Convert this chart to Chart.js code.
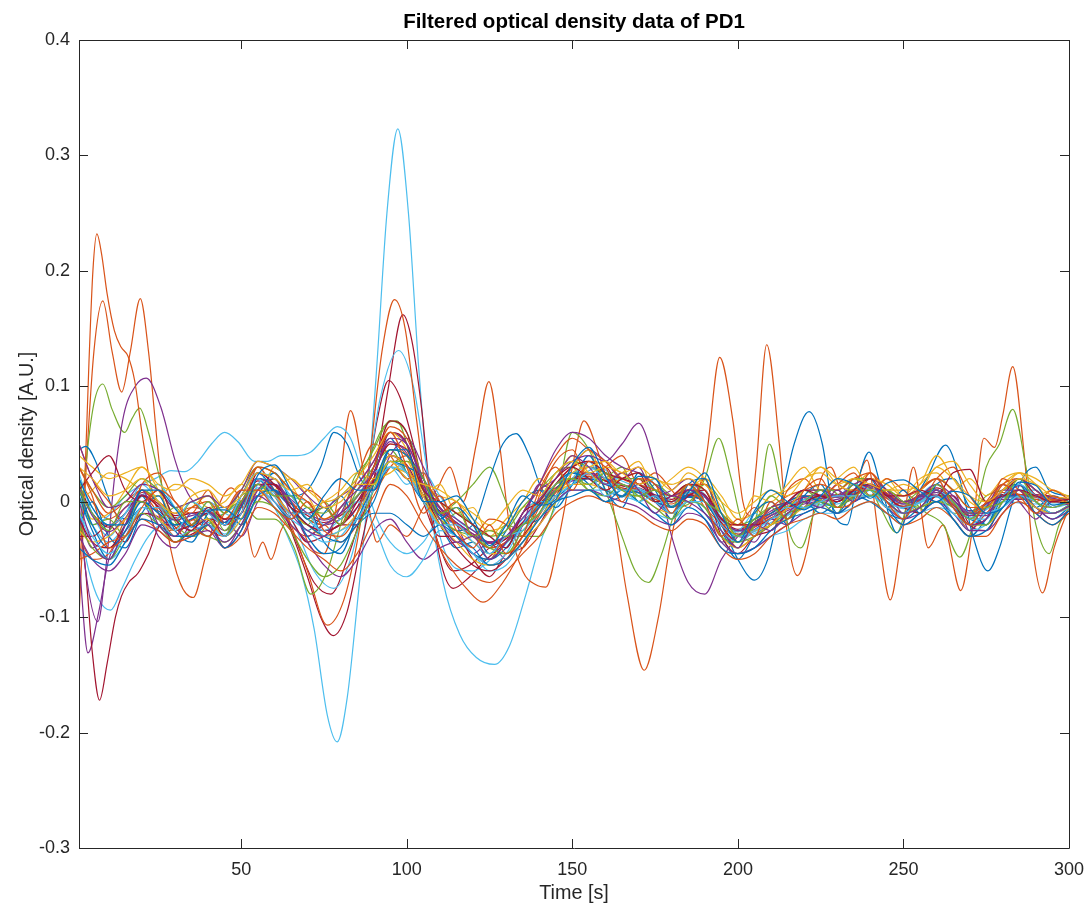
<!DOCTYPE html>
<html>
<head>
<meta charset="utf-8">
<script src="https://cdn.jsdelivr.net/npm/chart.js@4.4.1/dist/chart.umd.min.js"></script>
<style>
  html, body { margin: 0; padding: 0; background: #ffffff; }
  #wrap { width: 1086px; height: 908px; }
</style>
</head>
<body>
<div id="wrap"><canvas id="odChart"></canvas></div>
<script>
// common sampling times (s) for the channels that stay in the main band
const gridTime = [1,5,10,15,20,25,30,35,40,45, 50,55,60,65,70,75,80,85,90,95,
  100,105,110,115,120,125,130,135,140,145, 150,155,160,165,170,175,180,185,190,195,
  200,205,210,215,220,225,230,235,240,245, 250,255,260,265,270,275,280,285,290,295, 300];

const xTicks = [50, 100, 150, 200, 250, 300];
const yTicks = [-0.3, -0.2, -0.1, 0, 0.1, 0.2, 0.3, 0.4];

// band channels, one value per gridTime entry
const bgBlue1 = [0.020,-0.005,-0.020,-0.020,0.010,0.010,-0.006,-0.022,-0.007,-0.007,
  -0.015,0.023,0.032,0.010,-0.015,0.005,0.020,0.010,0.010,0.045,
  0.045,0.000,0.000,0.005,-0.015,-0.038,-0.020,0.005,-0.003,0.002,
  0.032,0.047,0.022,0.004,0.022,0.020,-0.005,0.008,0.025,-0.010,
  -0.035,-0.008,0.010,0.000,-0.007,0.005,0.020,0.015,0.003,0.016,
  0.019,0.009,0.000,0.009,0.005,-0.010,-0.005,0.017,0.014,-0.003, 0.000];
const bgOrange1 = [0.030,0.005,-0.040,-0.030,-0.005,0.010,0.000,-0.020,-0.030,-0.010,
  0.010,0.010,-0.005,-0.015,0.000,-0.025,-0.030,-0.010,0.030,0.060,
  0.030,-0.010,0.005,-0.025,-0.040,-0.020,-0.045,-0.030,0.010,0.030,
  0.010,0.035,0.030,0.000,0.020,0.015,-0.010,0.015,0.000,-0.030,
  -0.015,-0.030,0.000,-0.015,0.010,0.020,-0.005,0.000,0.025,0.000,
  -0.015,0.010,0.020,-0.005,-0.020,0.000,0.015,0.005,-0.010,0.005, -0.002];
const bgYellow1 = [0.030,0.020,0.005,0.010,0.020,0.000,-0.010,0.005,0.010,-0.005,
  0.005,0.025,0.020,0.010,0.015,-0.005,0.000,0.015,0.015,0.035,
  0.020,0.015,0.010,0.000,-0.010,-0.020,-0.005,0.010,0.005,0.025,
  0.035,0.025,0.030,0.025,0.015,0.020,0.010,0.025,0.015,0.000,
  -0.010,0.000,0.010,0.005,0.020,0.025,0.015,0.020,0.015,0.010,
  0.015,0.010,0.030,0.020,0.005,0.000,0.010,0.020,0.015,0.005, 0.003];
const bgPurple1 = [0.000,-0.035,-0.050,-0.020,0.010,-0.020,-0.030,-0.010,-0.020,-0.035,
  -0.020,0.010,0.020,-0.010,-0.025,-0.030,-0.005,0.010,0.025,0.055,
  0.050,0.015,-0.015,-0.035,-0.030,-0.050,-0.035,-0.010,0.010,0.020,
  0.040,0.030,0.015,0.025,0.010,-0.010,0.005,0.000,-0.010,-0.025,
  -0.040,-0.020,-0.025,-0.010,0.000,-0.005,0.010,0.000,0.015,0.000,
  -0.010,-0.005,0.010,-0.005,-0.020,-0.015,0.010,0.010,-0.010,-0.010, -0.004];
const bgGreen1 = [0.010,-0.010,-0.025,0.000,0.000,-0.015,-0.005,-0.020,0.000,-0.025,
  0.000,0.015,0.005,0.005,-0.015,-0.005,-0.020,0.005,0.015,0.035,
  0.035,0.020,-0.010,-0.005,-0.030,-0.025,-0.030,-0.020,-0.010,0.015,
  0.020,0.015,0.025,0.010,0.005,0.010,-0.005,0.015,0.000,-0.010,
  -0.030,-0.015,-0.005,-0.015,0.000,0.010,-0.005,0.015,0.005,0.010,
  0.000,-0.005,0.015,0.000,-0.015,-0.005,0.000,0.020,0.000,-0.005, 0.000];
const bgCyan1 = [-0.010,-0.030,-0.045,-0.030,-0.005,-0.005,-0.025,-0.010,-0.020,-0.030,
  -0.010,0.020,0.005,-0.010,-0.010,-0.030,-0.025,-0.015,0.010,0.030,
  0.025,0.000,-0.020,-0.020,-0.035,-0.045,-0.030,-0.025,-0.010,0.005,
  0.015,0.025,0.005,0.010,0.000,0.005,-0.010,0.000,0.000,-0.020,
  -0.030,-0.025,-0.015,-0.005,-0.005,0.000,0.005,0.005,0.005,-0.005,
  -0.010,0.000,0.005,-0.010,-0.020,-0.010,-0.005,0.005,0.000,-0.010, -0.004];
const bgRed1 = [0.010,0.025,0.040,0.010,0.000,0.010,-0.015,-0.025,-0.005,-0.015,
  -0.010,0.025,0.015,-0.005,-0.010,-0.005,-0.020,0.000,0.025,0.050,
  0.045,0.010,0.000,-0.010,-0.020,-0.030,-0.040,-0.010,0.000,0.020,
  0.030,0.020,0.010,0.020,0.025,0.000,0.005,0.015,0.010,-0.015,
  -0.020,-0.020,-0.015,0.000,0.010,0.005,0.000,0.010,0.020,0.005,
  0.005,0.010,0.005,0.025,0.028,0.000,0.005,0.010,0.005,0.000, 0.002];
const bgBlue2 = [-0.040,-0.050,-0.055,-0.035,-0.015,-0.020,-0.030,-0.030,-0.020,-0.040,
  -0.025,0.005,0.010,-0.005,-0.030,-0.045,-0.040,-0.015,0.015,0.045,
  0.040,0.020,-0.010,-0.030,-0.040,-0.055,-0.050,-0.035,-0.015,0.000,
  0.005,0.010,0.000,0.010,0.000,-0.010,-0.020,-0.005,-0.015,-0.040,
  -0.045,-0.040,-0.025,-0.015,-0.010,-0.005,-0.010,0.000,0.005,-0.005,
  -0.020,-0.010,0.000,-0.015,-0.030,-0.025,-0.005,0.005,-0.010,-0.020, -0.008];
const bgOrange2 = [-0.050,-0.045,-0.035,-0.030,-0.015,-0.025,-0.035,-0.030,-0.020,-0.040,
  -0.030,-0.005,-0.010,-0.025,-0.040,-0.050,-0.060,-0.045,-0.015,0.015,
  0.005,-0.020,-0.040,-0.055,-0.065,-0.070,-0.060,-0.045,-0.030,-0.010,
  0.000,0.005,0.000,-0.005,-0.010,-0.020,-0.025,-0.015,-0.020,-0.040,
  -0.050,-0.045,-0.030,-0.020,-0.015,-0.010,-0.015,-0.005,0.000,-0.010,
  -0.020,-0.015,-0.005,-0.015,-0.030,-0.030,-0.010,0.000,-0.010,-0.020, -0.010];
const bgYellow2 = [0.040,0.030,0.020,0.025,0.030,0.015,0.010,0.020,0.015,0.005,
  0.015,0.035,0.030,0.020,0.010,0.000,0.005,0.020,0.040,0.060,
  0.045,0.005,-0.020,-0.035,-0.050,-0.055,-0.050,-0.035,-0.020,0.000,
  0.025,0.030,0.035,0.025,0.030,0.020,0.015,0.020,0.010,-0.010,
  -0.030,-0.025,-0.020,-0.005,0.010,0.030,0.015,0.010,0.020,0.015,
  0.005,0.015,0.040,0.020,0.000,-0.005,0.010,0.025,0.015,0.000, 0.000];
const bgPurple2 = [0.050,0.020,-0.005,0.000,0.015,0.010,-0.005,0.000,0.005,-0.005,
  0.010,0.035,0.030,0.020,0.005,-0.005,0.005,0.015,0.035,0.060,
  0.050,0.020,-0.005,-0.015,-0.025,-0.035,-0.030,-0.010,0.015,0.045,
  0.060,0.055,0.040,0.030,0.025,0.015,0.005,0.010,0.005,-0.015,
  -0.025,-0.020,-0.005,0.000,0.010,0.010,0.005,0.015,0.020,0.010,
  0.000,0.005,0.015,0.005,-0.010,-0.010,0.010,0.020,0.010,0.000, 0.003];
const bgGreen2 = [-0.020,-0.040,-0.050,-0.030,-0.010,-0.020,-0.035,-0.025,-0.030,-0.035,
  -0.020,0.000,-0.005,-0.025,-0.050,-0.065,-0.055,-0.025,0.010,0.045,
  0.040,0.010,-0.015,-0.025,-0.030,-0.040,-0.045,-0.025,-0.010,0.010,
  0.020,0.010,0.005,0.015,0.005,-0.005,-0.015,0.000,-0.005,-0.030,
  -0.035,-0.030,-0.020,-0.010,-0.005,0.000,-0.005,0.005,0.010,0.000,
  -0.010,-0.005,0.000,-0.005,-0.020,-0.020,0.000,0.010,0.000,-0.010, -0.003];
const bgCyan2 = [0.020,-0.005,-0.020,-0.010,0.015,0.000,-0.015,0.000,-0.010,-0.020,
  0.005,0.025,0.020,0.005,-0.015,-0.025,-0.015,0.000,-0.020,-0.055,
  -0.065,-0.050,-0.025,-0.030,-0.045,-0.055,-0.045,-0.020,0.000,0.015,
  0.025,0.030,0.020,0.010,0.010,0.000,-0.010,0.000,-0.005,-0.025,
  -0.035,-0.025,-0.015,-0.010,0.000,0.010,0.005,0.015,0.010,0.000,
  -0.005,0.000,0.010,0.000,-0.015,-0.015,0.005,0.015,0.005,-0.005, 0.000];
const bgRed2 = [-0.015,-0.035,-0.040,-0.020,0.005,-0.005,-0.025,-0.020,-0.010,-0.030,
  -0.010,0.015,0.015,-0.005,-0.020,-0.025,-0.020,-0.005,0.030,0.070,
  0.060,0.010,-0.020,-0.040,-0.055,-0.060,-0.050,-0.030,-0.010,0.015,
  0.030,0.035,0.025,0.020,0.015,0.005,0.000,0.010,0.005,-0.020,
  -0.035,-0.025,-0.015,-0.005,0.000,0.005,0.000,0.010,0.015,0.005,
  -0.005,0.000,0.010,0.000,-0.020,-0.015,0.005,0.020,0.005,-0.005, 0.000];
const bgBlue3 = [0.010,-0.020,-0.040,-0.025,0.000,-0.010,-0.020,-0.015,-0.005,-0.020,
  0.005,0.025,0.010,-0.005,-0.020,-0.030,-0.035,-0.020,-0.010,-0.010,
  -0.020,-0.030,-0.020,-0.030,-0.045,-0.050,-0.040,-0.020,-0.005,0.015,
  0.025,0.020,0.010,0.005,0.010,0.000,-0.010,0.010,0.000,-0.020,
  -0.030,-0.015,-0.010,0.000,0.005,0.000,-0.005,0.010,0.015,0.000,
  -0.010,0.005,0.010,-0.005,-0.015,-0.020,0.005,0.015,0.000,-0.010, -0.003];
const bgOrange3 = [0.030,0.010,-0.010,0.000,0.010,-0.005,-0.015,-0.005,0.000,-0.015,
  0.005,0.030,0.025,0.010,0.000,-0.015,-0.005,0.015,0.035,0.065,
  0.055,0.020,0.000,-0.020,-0.030,-0.040,-0.035,-0.010,0.015,0.040,
  0.055,0.045,0.035,0.020,0.015,0.010,0.005,0.015,0.015,-0.010,
  -0.020,-0.020,-0.005,0.005,0.010,0.015,0.010,0.020,0.025,0.010,
  0.005,0.010,0.020,0.010,-0.005,-0.005,0.015,0.020,0.010,0.000, 0.002];
const bgYellow3 = [-0.025,-0.035,-0.030,-0.015,0.000,-0.015,-0.025,-0.020,-0.015,-0.030,
  -0.015,0.010,0.005,-0.010,-0.020,-0.030,-0.025,-0.010,0.015,0.040,
  0.030,0.000,-0.015,-0.025,-0.035,-0.045,-0.045,-0.030,-0.015,0.005,
  0.015,0.015,0.010,0.005,0.005,-0.005,-0.010,0.000,-0.005,-0.030,
  -0.040,-0.030,-0.020,-0.015,-0.005,0.000,-0.005,0.005,0.005,-0.005,
  -0.010,-0.005,0.000,-0.005,-0.020,-0.020,-0.005,0.005,-0.005,-0.010, -0.005];
const bgPurple3 = [-0.030,-0.050,-0.060,-0.045,-0.020,-0.025,-0.035,-0.030,-0.025,-0.040,
  -0.020,0.005,-0.005,-0.020,-0.035,-0.055,-0.065,-0.050,-0.025,-0.015,
  -0.035,-0.050,-0.040,-0.035,-0.045,-0.055,-0.050,-0.035,-0.020,0.000,
  0.010,0.010,0.005,0.000,-0.005,-0.015,-0.020,-0.010,-0.015,-0.035,
  -0.045,-0.040,-0.030,-0.020,-0.010,-0.005,-0.010,0.000,0.005,-0.005,
  -0.015,-0.010,0.000,-0.010,-0.025,-0.025,-0.010,0.005,-0.005,-0.015, -0.008];
const bgGreen3 = [0.030,0.010,-0.005,0.005,0.020,0.010,-0.005,0.000,0.005,-0.010,
  0.010,0.030,0.025,0.010,-0.005,-0.010,0.005,0.020,0.045,0.070,
  0.060,0.020,0.000,-0.010,-0.020,-0.030,-0.025,-0.005,0.010,0.025,
  0.035,0.030,0.025,0.020,0.020,0.010,0.005,0.015,0.010,-0.010,
  -0.020,-0.015,-0.005,0.000,0.010,0.010,0.010,0.020,0.020,0.010,
  0.000,0.010,0.020,0.010,-0.005,-0.005,0.010,0.020,0.010,0.000, 0.002];
const bgCyan3 = [-0.010,-0.035,-0.050,-0.035,-0.005,-0.015,-0.030,-0.025,-0.020,-0.030,
  -0.015,0.010,0.000,-0.015,-0.025,-0.035,-0.030,-0.010,0.015,0.035,
  0.025,0.000,-0.020,-0.030,-0.045,-0.060,-0.055,-0.035,-0.015,0.000,
  0.010,0.010,0.010,0.005,0.000,-0.010,-0.015,-0.005,-0.015,-0.035,
  -0.045,-0.040,-0.030,-0.025,-0.015,-0.010,-0.010,-0.005,0.000,-0.010,
  -0.020,-0.010,-0.005,-0.010,-0.025,-0.020,-0.005,0.005,-0.005,-0.010, -0.006];
const bgPurple4 = [0.012,-0.012,-0.026,-0.014,0.006,-0.004,-0.016,-0.012,-0.010,-0.020,
  -0.002,0.020,0.014,0.002,-0.010,-0.016,-0.010,0.004,0.026,0.052,
  0.042,0.012,-0.006,-0.018,-0.028,-0.036,-0.030,-0.014,0.002,0.020,
  0.035,0.040,0.035,0.050,0.068,0.030,-0.030,-0.070,-0.080,-0.050,
  -0.030,-0.018,-0.008,-0.002,0.004,0.006,0.004,0.010,0.014,0.006,
  -0.002,0.002,0.010,0.002,-0.012,-0.012,0.004,0.014,0.006,0.000, 0.002];
const bgBlue4 = [-0.020,0.000,-0.030,-0.040,-0.010,0.005,-0.025,-0.035,-0.010,-0.005,
  -0.020,0.005,0.025,0.000,-0.025,-0.010,0.005,-0.015,0.000,0.035,
  0.030,0.020,-0.015,-0.005,-0.020,-0.045,-0.025,0.000,0.010,-0.005,
  0.015,0.040,0.010,-0.005,0.025,0.010,-0.015,0.015,0.020,-0.025,
  -0.040,-0.010,0.000,-0.020,0.005,0.015,-0.010,0.010,0.020,-0.005,
  0.010,-0.010,0.015,0.020,-0.005,-0.020,0.010,0.015,-0.005,0.005, 0.000];
const bgOrange4 = [0.050,0.020,0.000,-0.020,0.015,0.025,0.000,-0.010,0.010,-0.020,
  -0.010,0.030,0.010,-0.010,0.010,0.000,-0.020,0.020,0.050,0.040,
  0.020,0.025,-0.010,0.000,-0.030,-0.015,-0.020,-0.040,0.005,0.035,
  0.045,0.020,0.030,0.040,0.015,0.025,0.010,-0.005,0.020,-0.020,
  -0.020,-0.005,-0.020,0.010,0.020,0.005,0.015,0.025,0.005,0.020,
  0.010,0.000,0.020,0.030,0.005,-0.010,0.020,0.010,0.000,0.010, 0.002];
const bgYellow4 = [0.010,-0.015,-0.010,0.010,0.030,0.010,-0.015,-0.005,0.005,-0.010,
  0.010,0.000,0.030,0.015,-0.005,0.000,0.010,0.025,0.020,0.025,
  0.035,0.005,0.015,-0.010,-0.005,-0.030,-0.015,0.000,0.020,0.010,
  0.030,0.045,0.020,0.025,0.035,0.010,0.020,0.030,0.020,-0.005,
  -0.020,0.005,0.000,0.015,0.030,0.010,0.020,0.030,0.010,0.020,
  0.005,0.020,0.025,0.010,0.020,0.005,0.020,0.025,0.005,0.010, 0.004];
const bgPurple5 = [-0.010,-0.040,-0.025,-0.005,0.000,-0.030,-0.040,-0.020,-0.030,-0.015,
  -0.030,0.000,0.015,0.000,-0.030,-0.020,-0.010,0.015,0.010,0.040,
  0.055,0.030,0.000,-0.020,-0.045,-0.035,-0.050,-0.020,0.015,0.010,
  0.030,0.045,0.035,0.020,0.030,0.005,0.010,0.020,0.000,-0.035,
  -0.030,-0.035,-0.015,-0.020,0.005,0.000,0.015,0.005,0.020,0.010,
  -0.010,0.005,0.000,0.010,-0.025,-0.005,0.015,0.000,-0.015,0.000, -0.003];
const bgGreen4 = [0.020,-0.020,-0.015,-0.030,0.010,0.000,-0.020,0.000,-0.015,-0.030,
  0.005,0.010,0.020,-0.005,-0.020,0.000,-0.015,0.010,0.030,0.045,
  0.025,0.010,-0.020,-0.010,-0.020,-0.040,-0.020,-0.025,0.000,0.025,
  0.030,0.010,0.020,0.030,0.000,0.015,0.005,0.000,0.015,0.000,
  -0.035,-0.020,0.005,-0.005,0.010,0.000,-0.010,0.020,0.010,0.000,
  -0.010,0.005,0.010,-0.010,-0.010,0.005,0.010,0.015,-0.010,0.000, 0.000];
const bgCyan4 = [0.025,-0.010,-0.030,-0.010,0.005,0.015,-0.005,-0.020,0.000,-0.010,
  -0.015,0.015,0.025,0.005,0.000,-0.020,-0.005,0.005,0.025,0.030,
  0.015,0.025,0.005,-0.015,-0.025,-0.030,-0.040,-0.010,0.000,0.000,
  0.020,0.035,0.015,0.015,0.005,0.020,0.000,0.010,0.015,-0.015,
  -0.025,-0.010,-0.020,0.000,-0.005,0.010,0.010,0.000,0.010,0.005,
  -0.015,0.005,0.015,0.000,-0.010,-0.020,0.000,0.010,0.010,-0.005, -0.002];
const bgRed4 = [-0.030,-0.030,-0.020,-0.035,-0.010,-0.015,-0.035,-0.025,-0.015,-0.040,
  -0.025,0.010,0.000,-0.015,-0.035,-0.030,-0.020,-0.020,0.020,0.060,
  0.050,0.000,-0.030,-0.030,-0.050,-0.065,-0.045,-0.040,-0.020,0.005,
  0.020,0.020,0.030,0.010,0.020,0.000,-0.010,0.005,0.010,-0.030,
  -0.045,-0.030,-0.025,-0.010,-0.005,0.010,-0.005,0.005,0.015,0.000,
  -0.005,-0.010,0.005,0.005,-0.020,-0.025,0.000,0.010,0.000,-0.010, -0.004];
const bgBlue5 = [0.005,-0.025,-0.050,-0.020,0.005,-0.020,-0.015,-0.025,-0.020,-0.030,
  -0.005,0.020,0.000,-0.015,-0.005,-0.035,-0.045,-0.010,0.030,0.055,
  0.025,0.005,-0.020,-0.040,-0.035,-0.050,-0.035,-0.020,-0.015,0.010,
  0.025,0.015,0.000,0.005,0.015,0.005,-0.005,0.005,-0.010,-0.030,
  -0.050,-0.030,-0.020,-0.015,0.000,-0.010,0.000,0.005,0.000,-0.010,
  -0.015,-0.005,0.005,-0.015,-0.030,-0.015,0.005,0.005,-0.005,-0.015, -0.005];
const bgOrange5 = [-0.030,-0.050,-0.045,-0.015,0.005,-0.010,-0.030,-0.015,-0.025,-0.030,
  0.000,0.015,0.005,-0.020,-0.030,-0.020,-0.035,-0.020,0.005,0.030,
  0.040,0.015,-0.005,-0.030,-0.045,-0.050,-0.030,-0.030,-0.005,0.015,
  0.020,0.030,0.025,0.010,0.010,0.000,0.000,0.015,-0.005,-0.020,
  -0.040,-0.030,-0.020,0.000,-0.005,0.000,0.005,0.010,0.010,-0.005,
  0.000,-0.010,0.005,-0.005,-0.025,-0.010,0.000,0.010,-0.005,-0.010, -0.004];
const bgYellow5 = [0.000,0.010,0.025,0.020,0.010,0.005,0.015,0.010,-0.005,0.000,
  0.015,0.005,0.010,0.020,0.005,-0.015,-0.005,0.005,0.020,0.030,
  0.025,0.015,0.005,0.000,-0.015,-0.025,-0.020,-0.005,0.000,0.020,
  0.040,0.025,0.015,0.020,0.025,0.015,0.000,0.010,0.020,0.005,
  -0.015,-0.010,0.005,0.010,0.020,0.030,0.020,0.015,0.025,0.010,
  0.010,0.015,0.030,0.035,0.015,0.000,0.015,0.025,0.020,0.010, 0.005];

// channels with large excursions, as [time, value] pairs
const cyanSpike = [[1,0.005],[5,-0.02],[10,-0.035],[15,-0.02],[20,0.0],[25,-0.01],[30,-0.02],[35,-0.02],[40,-0.015],[45,-0.01],
  [50,0.0],[55,0.01],[60,-0.005],[64,-0.03],[68,-0.06],[72,-0.11],[76,-0.185],[79,-0.208],[82,-0.17],[85,-0.09],
  [88,0.0],[91,0.12],[94,0.25],[97.3,0.323],[100.5,0.25],[103.5,0.12],[107,0.0],[111,-0.07],[116,-0.115],[121,-0.135],
  [126.5,-0.141],[131,-0.125],[136,-0.08],[141,-0.03],[146,0.0],[152,0.02],[158,0.03],[165,0.015],[172,0.005],[180,0.0],
  [188,0.01],[195,-0.015],[202,-0.03],[210,-0.02],[220,-0.005],[230,0.0],[240,0.01],[250,0.0],[260,0.005],[270,-0.01],
  [280,0.0],[290,0.005],[300,0.0]];
const orangeEarly = [[1,-0.06],[2.5,0.0],[4,0.12],[5.2,0.2],[6.4,0.232],[7.8,0.215],[9.5,0.18],[11.7,0.148],[13.7,0.134],[15.8,0.126],
  [17.8,0.105],[20,0.06],[22.3,0.02],[25,-0.01],[28,-0.025],[32,-0.02],[36,-0.015],[40,-0.01],[45,-0.02],[50,0.0],
  [55,0.02],[60,0.015],[65,0.0],[70,-0.015],[75,-0.02],[80,-0.01],[85,0.005],[90,0.025],[95,0.05],[100,0.04],
  [105,0.01],[110,-0.005],[115,-0.02],[120,-0.03],[125,-0.04],[130,-0.035],[135,-0.02],[140,0.0],[145,0.015],[150,0.03],
  [155,0.035],[160,0.025],[165,0.015],[170,0.01],[175,0.0],[180,0.005],[185,0.01],[190,0.0],[195,-0.02],[200,-0.03],
  [205,-0.02],[210,-0.01],[220,0.005],[230,0.005],[240,0.015],[250,0.0],[260,0.01],[270,-0.01],[280,0.008],[290,0.004],[300,0.0]];
const orangeNoisy = [[1,-0.1],[3,0.02],[5.5,0.13],[8.2,0.174],[11,0.13],[13.9,0.095],[16.5,0.13],[19.5,0.176],[22,0.13],[25,0.04],
  [28,-0.03],[31.5,-0.07],[35.5,-0.083],[39,-0.05],[43,-0.005],[47,0.012],[51,-0.01],[54,-0.048],[56.5,-0.035],[59,-0.05],
  [62,-0.025],[66,-0.01],[71,-0.04],[75,-0.045],[79,0.0],[83,0.079],[87,0.025],[91,-0.035],[95,-0.02],[100,-0.03],
  [105,-0.005],[109,0.01],[113,0.03],[117,0.0],[121,0.05],[124.8,0.104],[128,0.05],[131,-0.02],[135,-0.06],[139,-0.072],
  [142,-0.074],[146,-0.03],[150,0.03],[153.5,0.07],[157.5,0.045],[162,0.0],[166.5,-0.08],[171.7,-0.146],[176,-0.1],[180,-0.03],
  [184,0.01],[187,0.005],[190.5,0.04],[194.5,0.125],[198.5,0.07],[201.5,0.0],[203.5,-0.012],[205.5,0.03],[208.7,0.136],[212.5,0.05],
  [215,-0.03],[218,-0.064],[221,-0.04],[224,0.01],[228,0.03],[233,-0.005],[239,0.036],[242.5,-0.03],[246,-0.085],[249.5,-0.03],
  [253,0.03],[257.5,-0.04],[262,-0.02],[267.3,-0.077],[271,-0.02],[274.3,0.055],[277.5,0.047],[280,0.075],[283,0.117],[286.5,0.04],
  [289,-0.04],[292,-0.079],[295.5,-0.04],[300,-0.005]];
const greenNoisy = [[1,-0.04],[3,0.03],[5.5,0.085],[8.2,0.102],[11,0.08],[14.8,0.06],[17,0.072],[19.3,0.081],[22,0.06],[25,0.025],
  [28,-0.005],[32,-0.025],[36,-0.03],[40,-0.02],[45,-0.01],[50,0.0],[55,-0.015],[60,-0.015],[66,-0.04],[71,-0.08],
  [76,-0.06],[80,-0.02],[84,0.02],[88,0.035],[93,0.065],[97,0.07],[101,0.04],[105,0.0],[110,-0.01],[115,0.0],
  [120,0.015],[125,0.03],[130,0.0],[135,-0.03],[140,-0.03],[145,0.0],[150,0.06],[155,0.045],[160,0.01],[165,-0.03],
  [169,-0.06],[173,-0.07],[177,-0.045],[181,-0.01],[186,0.0],[190,0.02],[194.2,0.055],[198,0.02],[201.5,-0.02],[204,-0.025],
  [206.5,0.0],[209.5,0.05],[213,0.01],[216,-0.03],[219,-0.04],[223,-0.01],[228,0.01],[233,0.0],[239,0.015],[243,-0.005],
  [248,-0.027],[252,0.0],[257,-0.01],[262,-0.02],[267,-0.048],[271,-0.02],[275,0.03],[279,0.05],[283,0.08],[287,0.03],
  [290,-0.02],[294,-0.045],[297,-0.02],[300,-0.005]];
const purpleEarly = [[1,0.0],[3,-0.06],[6.7,-0.104],[9,-0.06],[11.7,0.02],[14.5,0.075],[18,0.1],[21.3,0.107],[25.7,0.082],[30,0.036],
  [33,0.012],[37,-0.005],[41,-0.01],[45,-0.018],[50,0.0],[55,0.015],[60,0.01],[65,0.0],[70,-0.015],[75,-0.02],
  [80,-0.015],[85,0.0],[90,0.02],[95,0.04],[100,0.03],[105,0.005],[110,-0.01],[115,-0.02],[120,-0.03],[125,-0.035],
  [130,-0.03],[135,-0.02],[140,0.0],[145,0.015],[150,0.025],[155,0.025],[160,0.02],[165,0.015],[170,0.01],[175,0.005],
  [180,0.0],[185,0.005],[190,0.0],[195,-0.015],[200,-0.025],[205,-0.02],[210,-0.012],[220,0.0],[230,0.005],[240,0.012],
  [250,0.0],[260,0.008],[270,-0.008],[280,0.005],[290,0.005],[300,0.0]];
const purpleDip = [[1,-0.05],[3.7,-0.131],[7,-0.095],[10,-0.05],[14,-0.03],[18,-0.015],[22,-0.01],[26,-0.015],[30,-0.025],[35,-0.02],
  [40,-0.015],[45,-0.025],[50,-0.01],[55,0.01],[60,0.005],[65,-0.01],[70,-0.02],[75,-0.025],[80,-0.02],[85,-0.005],
  [90,0.015],[95,0.035],[100,0.025],[105,0.0],[110,-0.01],[115,-0.02],[120,-0.03],[125,-0.04],[130,-0.035],[135,-0.02],
  [140,-0.005],[145,0.01],[150,0.018],[155,0.02],[160,0.015],[165,0.01],[170,0.008],[175,0.0],[180,-0.005],[185,0.004],
  [190,0.0],[195,-0.02],[200,-0.03],[205,-0.024],[210,-0.015],[220,-0.002],[230,0.002],[240,0.01],[250,-0.004],[260,0.006],
  [270,-0.012],[280,0.002],[290,0.002],[300,-0.002]];
const redDip = [[1,-0.01],[3,-0.06],[5,-0.13],[7.2,-0.172],[9.5,-0.14],[12,-0.1],[13.8,-0.082],[16,-0.07],[18.8,-0.062],[22,-0.045],
  [25.8,-0.02],[29,-0.02],[33,-0.03],[37,-0.025],[41,-0.015],[45,-0.02],[50,-0.002],[55,0.015],[60,0.01],[65,-0.002],
  [70,-0.012],[75,-0.018],[80,-0.012],[85,0.0],[90,0.018],[95,0.04],[100,0.032],[105,0.006],[110,-0.008],[115,-0.018],
  [120,-0.028],[125,-0.036],[130,-0.032],[135,-0.018],[140,-0.002],[145,0.012],[150,0.02],[155,0.024],[160,0.018],[165,0.014],
  [170,0.01],[175,0.004],[180,0.0],[185,0.006],[190,0.004],[195,-0.016],[200,-0.026],[205,-0.02],[210,-0.012],[220,0.002],
  [230,0.004],[240,0.012],[250,-0.002],[260,0.01],[270,-0.01],[280,0.006],[290,0.004],[300,0.0]];
const redPeak = [[1,0.015],[5,-0.01],[10,-0.02],[15,-0.01],[20,0.008],[25,0.0],[30,-0.012],[35,-0.01],[40,-0.008],[45,-0.018],
  [50,0.0],[55,0.02],[60,0.01],[65,-0.025],[70,-0.065],[74,-0.1],[77.8,-0.116],[82,-0.095],[86,-0.04],[89,0.0],
  [94.5,0.1],[98.8,0.162],[101.5,0.14],[104.5,0.08],[107.3,0.0],[110.5,-0.055],[114,-0.075],[119,-0.065],[124,-0.05],[129,-0.038],
  [134,-0.024],[139,-0.006],[144,0.008],[150,0.02],[155,0.025],[160,0.02],[165,0.015],[170,0.01],[175,0.004],[180,0.0],
  [185,0.008],[190,0.004],[195,-0.018],[200,-0.03],[205,-0.022],[210,-0.012],[220,0.002],[230,0.006],[240,0.014],[250,0.0],
  [260,0.01],[270,-0.012],[280,0.006],[290,0.006],[300,0.002]];
const orangePeak = [[1,0.02],[5,0.0],[10,-0.015],[15,-0.005],[20,0.01],[25,0.0],[30,-0.01],[35,-0.005],[40,-0.008],[45,-0.015],
  [50,0.0],[55,0.02],[60,0.01],[65,-0.02],[70,-0.06],[76,-0.107],[81,-0.085],[85,-0.035],[88.5,0.03],[92.5,0.13],
  [96.3,0.175],[99.5,0.15],[103,0.07],[106.5,-0.005],[110,-0.04],[114,-0.06],[118,-0.075],[123,-0.087],[129,-0.07],[135,-0.04],
  [140,-0.012],[145,0.008],[150,0.02],[155,0.022],[160,0.018],[165,0.012],[170,0.008],[175,0.002],[180,-0.002],[185,0.006],
  [190,0.0],[195,-0.02],[200,-0.028],[205,-0.022],[210,-0.014],[220,0.0],[230,0.004],[240,0.01],[250,-0.004],[260,0.008],
  [270,-0.012],[280,0.004],[290,0.002],[300,0.0]];
const cyanPeak = [[1,-0.02],[4,-0.06],[7,-0.085],[10.5,-0.094],[14,-0.075],[18,-0.05],[22,-0.03],[26,-0.02],[30,-0.025],[35,-0.02],
  [40,-0.018],[45,-0.028],[50,-0.01],[55,0.012],[60,0.008],[66,-0.02],[72,-0.06],[78,-0.075],[83,-0.05],[87,0.0],
  [92,0.09],[97.5,0.131],[102,0.1],[106,0.03],[110,-0.03],[115,-0.058],[120,-0.06],[126,-0.048],[132,-0.03],[138,-0.01],
  [145,0.01],[150,0.02],[155,0.022],[160,0.016],[165,0.012],[170,0.008],[175,0.0],[180,-0.004],[185,0.004],[190,0.0],
  [195,-0.02],[200,-0.03],[205,-0.026],[210,-0.018],[220,-0.006],[230,-0.002],[240,0.006],[250,-0.006],[260,0.004],[270,-0.014],
  [280,0.0],[290,-0.002],[300,-0.002]];
const redMid = [[1,0.01],[5,-0.01],[10,-0.022],[15,-0.01],[20,0.006],[25,-0.002],[30,-0.014],[35,-0.01],[40,-0.01],[45,-0.02],
  [50,-0.004],[55,0.018],[60,0.008],[66,-0.03],[72,-0.07],[77,-0.08],[82,-0.05],[87,0.0],[91,0.07],[94.5,0.105],
  [98,0.09],[102,0.05],[106,0.0],[110,-0.04],[114,-0.06],[119,-0.055],[125,-0.04],[130,-0.032],[135,-0.018],[140,-0.004],
  [145,0.01],[150,0.02],[155,0.022],[160,0.018],[165,0.014],[170,0.012],[175,0.006],[180,0.002],[185,0.01],[190,0.006],
  [195,-0.014],[200,-0.024],[205,-0.018],[210,-0.01],[220,0.004],[230,0.006],[240,0.014],[250,0.0],[260,0.012],[270,-0.008],
  [280,0.006],[290,0.006],[300,0.002]];
const cyanHigh = [[1,0.0],[5,-0.02],[10,-0.012],[15,0.005],[20,0.015],[24,0.02],[28.8,0.027],[33,0.026],[37,0.035],[41,0.05],
  [45,0.06],[49,0.052],[54,0.035],[58,0.035],[62,0.04],[67,0.04],[71,0.043],[75,0.055],[79,0.065],[83,0.055],
  [87,0.02],[91,-0.015],[95,-0.035],[100,-0.045],[105,-0.035],[110,-0.015],[115,-0.02],[120,-0.03],[125,-0.035],[130,-0.03],
  [135,-0.015],[140,0.0],[145,0.015],[150,0.025],[155,0.03],[160,0.025],[165,0.018],[170,0.012],[175,0.004],[180,0.0],
  [185,0.008],[190,0.004],[195,-0.016],[200,-0.026],[205,-0.02],[210,-0.012],[220,0.002],[230,0.004],[240,0.012],[250,-0.002],
  [260,0.008],[270,-0.01],[280,0.004],[290,0.004],[300,0.0]];
const blueLate = [[1,0.045],[3,0.048],[6,0.035],[9,0.01],[12,-0.01],[16,-0.015],[20,-0.005],[25,-0.008],[30,-0.02],[35,-0.015],
  [40,-0.01],[45,-0.018],[50,0.0],[55,0.02],[60,0.015],[65,0.005],[70,0.01],[74,0.03],[78,0.06],[82,0.05],
  [86,0.02],[90,0.01],[95,0.03],[100,0.02],[105,0.0],[110,-0.012],[115,-0.025],[120,-0.02],[125,0.02],[129,0.05],
  [133,0.059],[137,0.04],[141,0.01],[145,0.005],[150,0.015],[155,0.02],[160,0.015],[165,0.01],[170,0.008],[175,0.0],
  [180,-0.004],[185,0.004],[190,0.0],[195,-0.02],[200,-0.05],[205,-0.068],[209,-0.05],[213,0.0],[217,0.05],[221.5,0.078],
  [225.5,0.05],[229,-0.01],[233,-0.02],[236,0.015],[239.6,0.043],[243.5,0.01],[248,-0.027],[252,-0.005],[257,0.02],[262.7,0.049],
  [267,0.02],[271,-0.03],[275.5,-0.06],[279,-0.04],[283,0.0],[287,0.025],[290,0.03],[294,0.01],[300,0.005]];

const BLUE = '#0072BD', ORANGE = '#D95319', YELLOW = '#EDB120', PURPLE = '#7E2F8E',
  GREEN = '#77AC30', CYAN = '#4DBEEE', RED = '#A2142F';

function fromGrid(values) {
  return gridTime.map(function (t, i) { return { x: t, y: values[i] }; });
}
function fromPairs(pairs) {
  return pairs.map(function (p) { return { x: p[0], y: p[1] }; });
}

const channels = [
  [bgBlue1, BLUE], [bgOrange1, ORANGE], [bgYellow1, YELLOW], [bgPurple1, PURPLE], [bgGreen1, GREEN], [bgCyan1, CYAN], [bgRed1, RED],
  [bgBlue2, BLUE], [bgOrange2, ORANGE], [bgYellow2, YELLOW], [bgPurple2, PURPLE], [bgGreen2, GREEN], [bgCyan2, CYAN], [bgRed2, RED],
  [bgBlue3, BLUE], [bgOrange3, ORANGE], [bgYellow3, YELLOW], [bgPurple3, PURPLE], [bgGreen3, GREEN], [bgCyan3, CYAN], [bgPurple4, PURPLE],
  [bgBlue4, BLUE], [bgOrange4, ORANGE], [bgYellow4, YELLOW], [bgPurple5, PURPLE], [bgGreen4, GREEN], [bgCyan4, CYAN], [bgRed4, RED],
  [bgBlue5, BLUE], [bgOrange5, ORANGE], [bgYellow5, YELLOW]
];
const outliers = [
  [blueLate, BLUE], [orangeEarly, ORANGE], [purpleEarly, PURPLE], [greenNoisy, GREEN], [cyanHigh, CYAN], [redDip, RED],
  [orangePeak, ORANGE], [purpleDip, PURPLE], [cyanPeak, CYAN], [redPeak, RED], [redMid, RED], [orangeNoisy, ORANGE], [cyanSpike, CYAN]
];

const datasets = [];
channels.forEach(function (c) {
  datasets.push({ data: fromGrid(c[0]), borderColor: c[1] });
});
outliers.forEach(function (c) {
  datasets.push({ data: fromPairs(c[0]), borderColor: c[1] });
});

// MATLAB style box with inward ticks on all four sides
const boxTicks = {
  id: 'boxTicks',
  afterDatasetsDraw: function (chart) {
    const ctx = chart.ctx, a = chart.chartArea;
    const xs = chart.scales.x, ys = chart.scales.y;
    const len = 9;
    ctx.save();
    ctx.strokeStyle = '#262626';
    ctx.lineWidth = 1;
    ctx.beginPath();
    ctx.rect(Math.round(a.left) + 0.5, Math.round(a.top) + 0.5,
      Math.round(a.right) - Math.round(a.left), Math.round(a.bottom) - Math.round(a.top));
    xTicks.forEach(function (v) {
      const px = Math.round(xs.getPixelForValue(v)) + 0.5;
      ctx.moveTo(px, a.bottom); ctx.lineTo(px, a.bottom - len);
      ctx.moveTo(px, a.top); ctx.lineTo(px, a.top + len);
    });
    yTicks.forEach(function (v) {
      const py = Math.round(ys.getPixelForValue(v)) + 0.5;
      ctx.moveTo(a.left, py); ctx.lineTo(a.left + len, py);
      ctx.moveTo(a.right, py); ctx.lineTo(a.right - len, py);
    });
    ctx.stroke();
    ctx.restore();
  }
};

const FONT = "'Liberation Sans', Arial, Helvetica, sans-serif";

new Chart(document.getElementById('odChart'), {
  type: 'line',
  data: { datasets: datasets },
  options: {
    responsive: true,
    maintainAspectRatio: false,
    animation: false,
    events: [],
    layout: { padding: { left: 0, right: 17, top: 0, bottom: 0 } },
    elements: {
      line: { borderWidth: 1.2, cubicInterpolationMode: 'monotone', fill: false },
      point: { radius: 0 }
    },
    plugins: {
      legend: { display: false },
      tooltip: { enabled: false },
      title: {
        display: true,
        fullSize: false,
        text: 'Filtered optical density data of PD1',
        color: '#000000',
        font: { family: FONT, size: 20.5, weight: 'bold' },
        padding: { top: 10.2, bottom: 5.2 }
      }
    },
    scales: {
      x: {
        type: 'linear',
        min: 1,
        max: 300,
        grid: { display: false, drawTicks: false },
        border: { display: false },
        ticks: {
          maxRotation: 0,
          padding: 11,
          color: '#262626',
          font: { family: FONT, size: 18 }
        },
        afterBuildTicks: function (scale) {
          scale.ticks = xTicks.map(function (v) { return { value: v }; });
        },
        title: {
          display: true,
          text: 'Time [s]',
          color: '#262626',
          font: { family: FONT, size: 19.8 },
          padding: { top: 0, bottom: 3 }
        },
        afterFit: function (scale) {
          scale.height = 60;
          scale.paddingLeft = 0;
          scale.paddingRight = 0;
        }
      },
      y: {
        min: -0.3,
        max: 0.4,
        grid: { display: false, drawTicks: false },
        border: { display: false },
        ticks: {
          padding: 9,
          color: '#262626',
          font: { family: FONT, size: 18 }
        },
        afterBuildTicks: function (scale) {
          scale.ticks = yTicks.map(function (v) { return { value: v }; });
        },
        title: {
          display: true,
          text: 'Optical density [A.U.]',
          color: '#262626',
          font: { family: FONT, size: 19.8 },
          padding: { top: 16, bottom: 0 }
        },
        afterFit: function (scale) { scale.width = 79; }
      }
    }
  },
  plugins: [boxTicks]
});
</script>
</body>
</html>
